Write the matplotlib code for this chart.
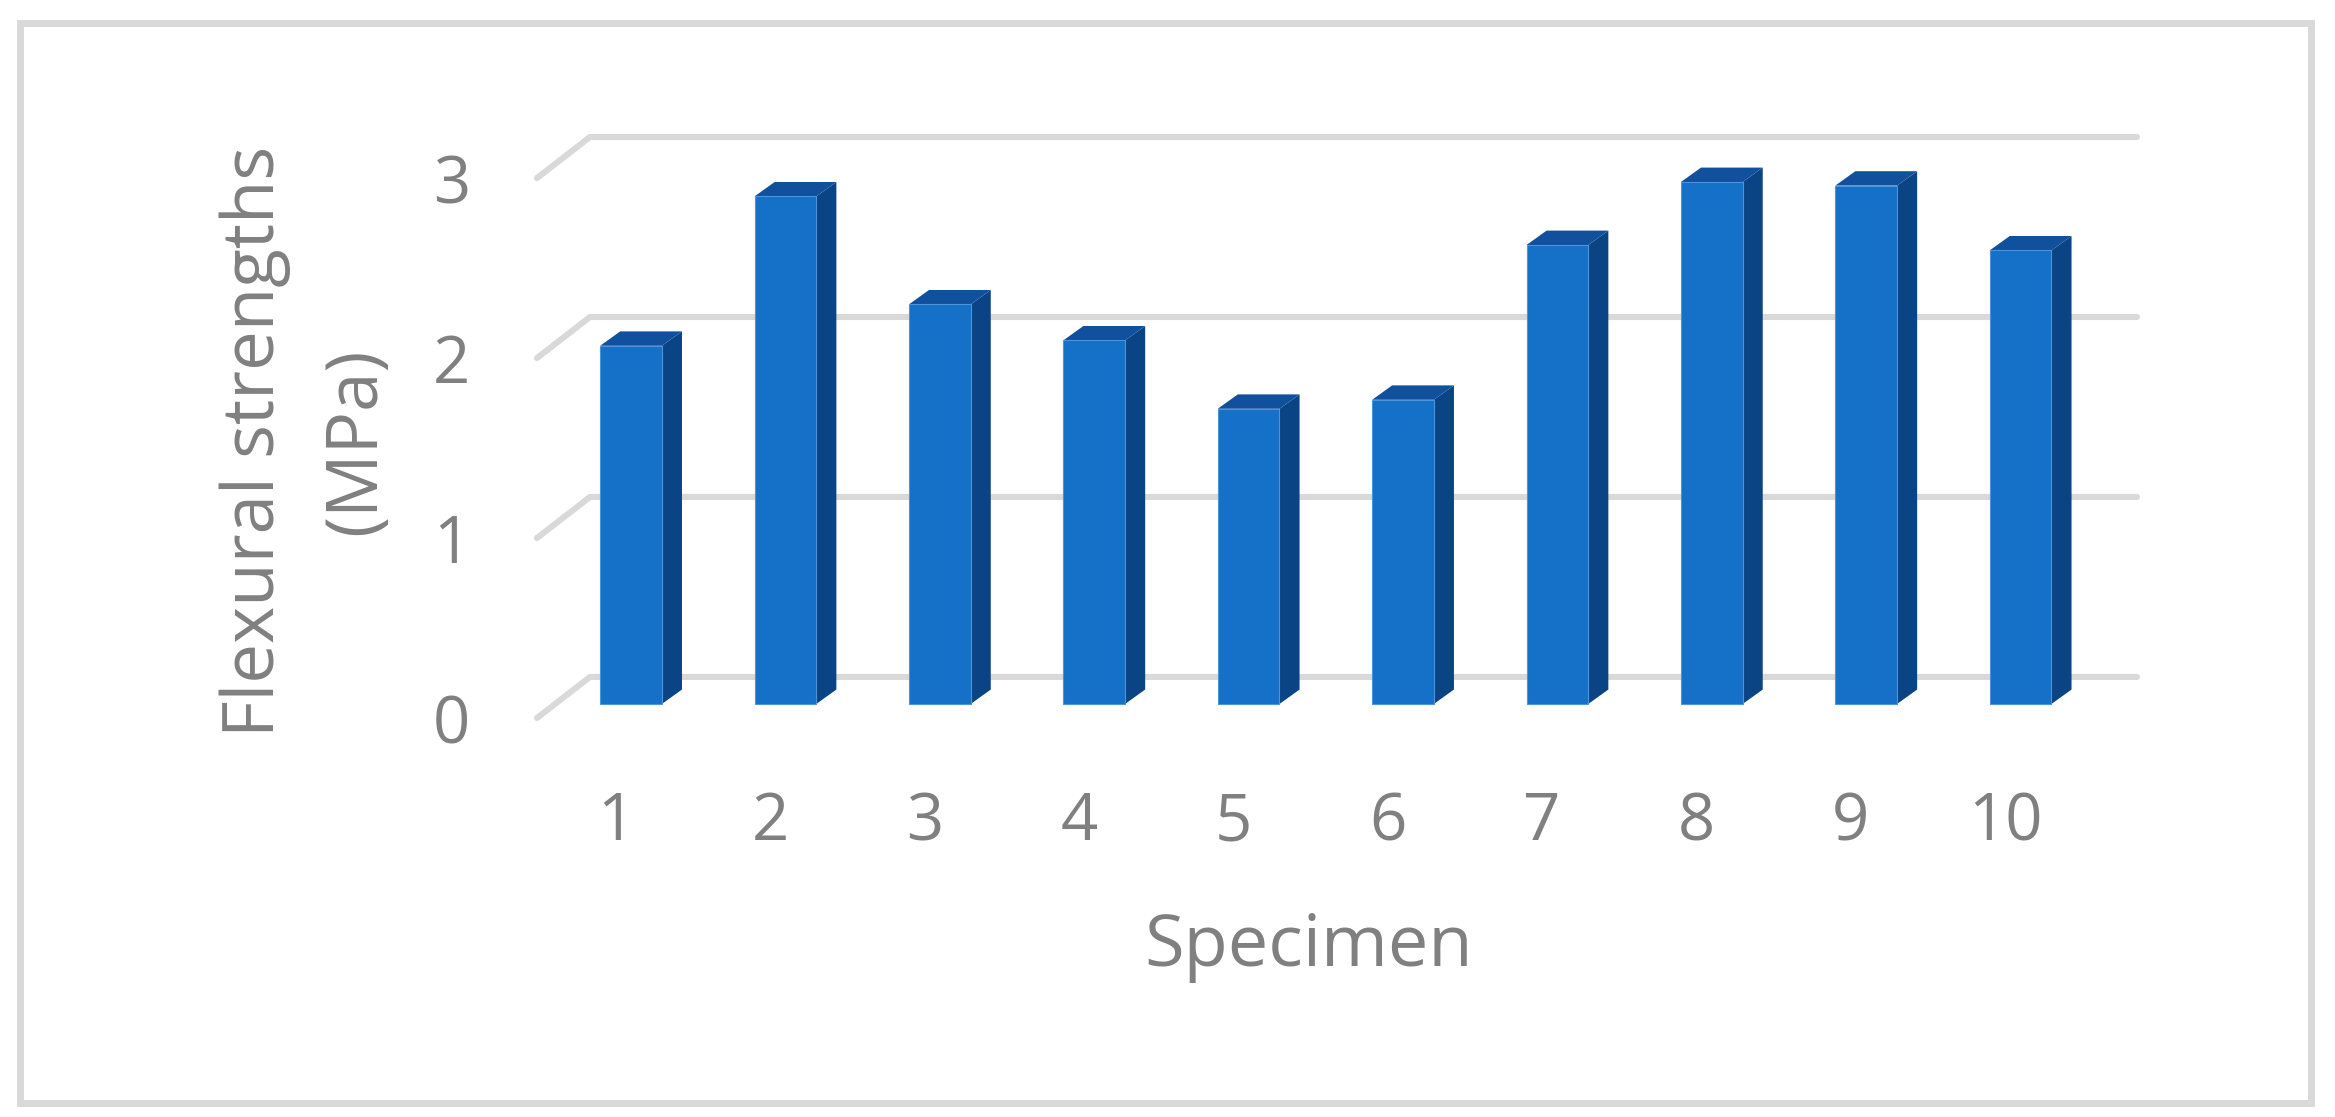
import matplotlib
matplotlib.use("Agg")
import matplotlib.pyplot as plt
from matplotlib.patches import Polygon, Rectangle

specimens = [1, 2, 3, 4, 5, 6, 7, 8, 9, 10]
strengths = [1.99, 2.82, 2.22, 2.02, 1.64, 1.69, 2.55, 2.90, 2.88, 2.52]
y_values = [0, 1, 2, 3]

W, H = 2335, 1117
FRONT = "#1570C8"
TOP = "#10509C"
SIDE = "#0A4484"
GREY = "#808080"
GRID = "#D9D9D9"

plt.rcParams["font.family"] = ["Open Sans", "DejaVu Sans"]

fig = plt.figure(figsize=(W / 100, H / 100), dpi=100, facecolor="white")
fig.patches.append(Rectangle((19.5 / W, 1 - 1103 / H), (2311 - 19.5) / W, (1103 - 22.5) / H,
                             transform=fig.transFigure, fill=False, edgecolor=GRID, linewidth=5))

# axes run from the front floor edge to the top back gridline
ax = fig.add_axes([537 / W, 1 - 718 / H, 1600 / W, 581 / H])
ax.set_xlim(0.391, 10.754)
ax.set_ylim(-0.078, 3.15)
ax.patch.set_visible(False)
for s in ax.spines.values():
    s.set_visible(False)

# fake 3d offsets
bar_w = 0.40
dx = 0.13
dy = 0.08
grid_back = 0.734

for v in y_values:
    ax.plot([0.391, grid_back, 10.754], [v - 0.078, v + 0.15, v + 0.15], color=GRID,
            linewidth=4.4, solid_joinstyle="miter", solid_capstyle="round", clip_on=False, zorder=1)

for x, h in zip(specimens, strengths):
    l, r = x - bar_w / 2, x + bar_w / 2
    ax.add_patch(Polygon([(r, 0), (r + dx, dy), (r + dx, h + dy), (r, h)], facecolor=SIDE,
                         edgecolor="none", zorder=2))
    ax.add_patch(Polygon([(l, h), (r, h), (r + dx, h + dy), (l + dx, h + dy)], facecolor=TOP,
                         edgecolor="none", zorder=2))
    ax.bar(x, h, width=bar_w, color=FRONT, edgecolor="#4F93D8", linewidth=0.8, zorder=3)

ax.set_xticks([x - 0.1 for x in specimens])
ax.set_xticklabels(specimens)
ax.set_yticks([v - 0.078 for v in y_values])
ax.set_yticklabels(y_values)
ax.tick_params(axis="both", length=0, labelsize=47, labelcolor=GREY)
ax.tick_params(axis="x", pad=52)
ax.tick_params(axis="y", pad=48)

fig.text(1309 / W, 1 - 947 / H, "Specimen", fontsize=52, color=GREY, ha="center", va="center")
fig.text(306 / W, 1 - 441 / H, "Flexural strengths\n(MPa)", fontsize=51, color=GREY, rotation=90,
         ha="center", va="center", multialignment="center", linespacing=1.55)

fig.savefig("out.png", dpi=100, facecolor="white")
